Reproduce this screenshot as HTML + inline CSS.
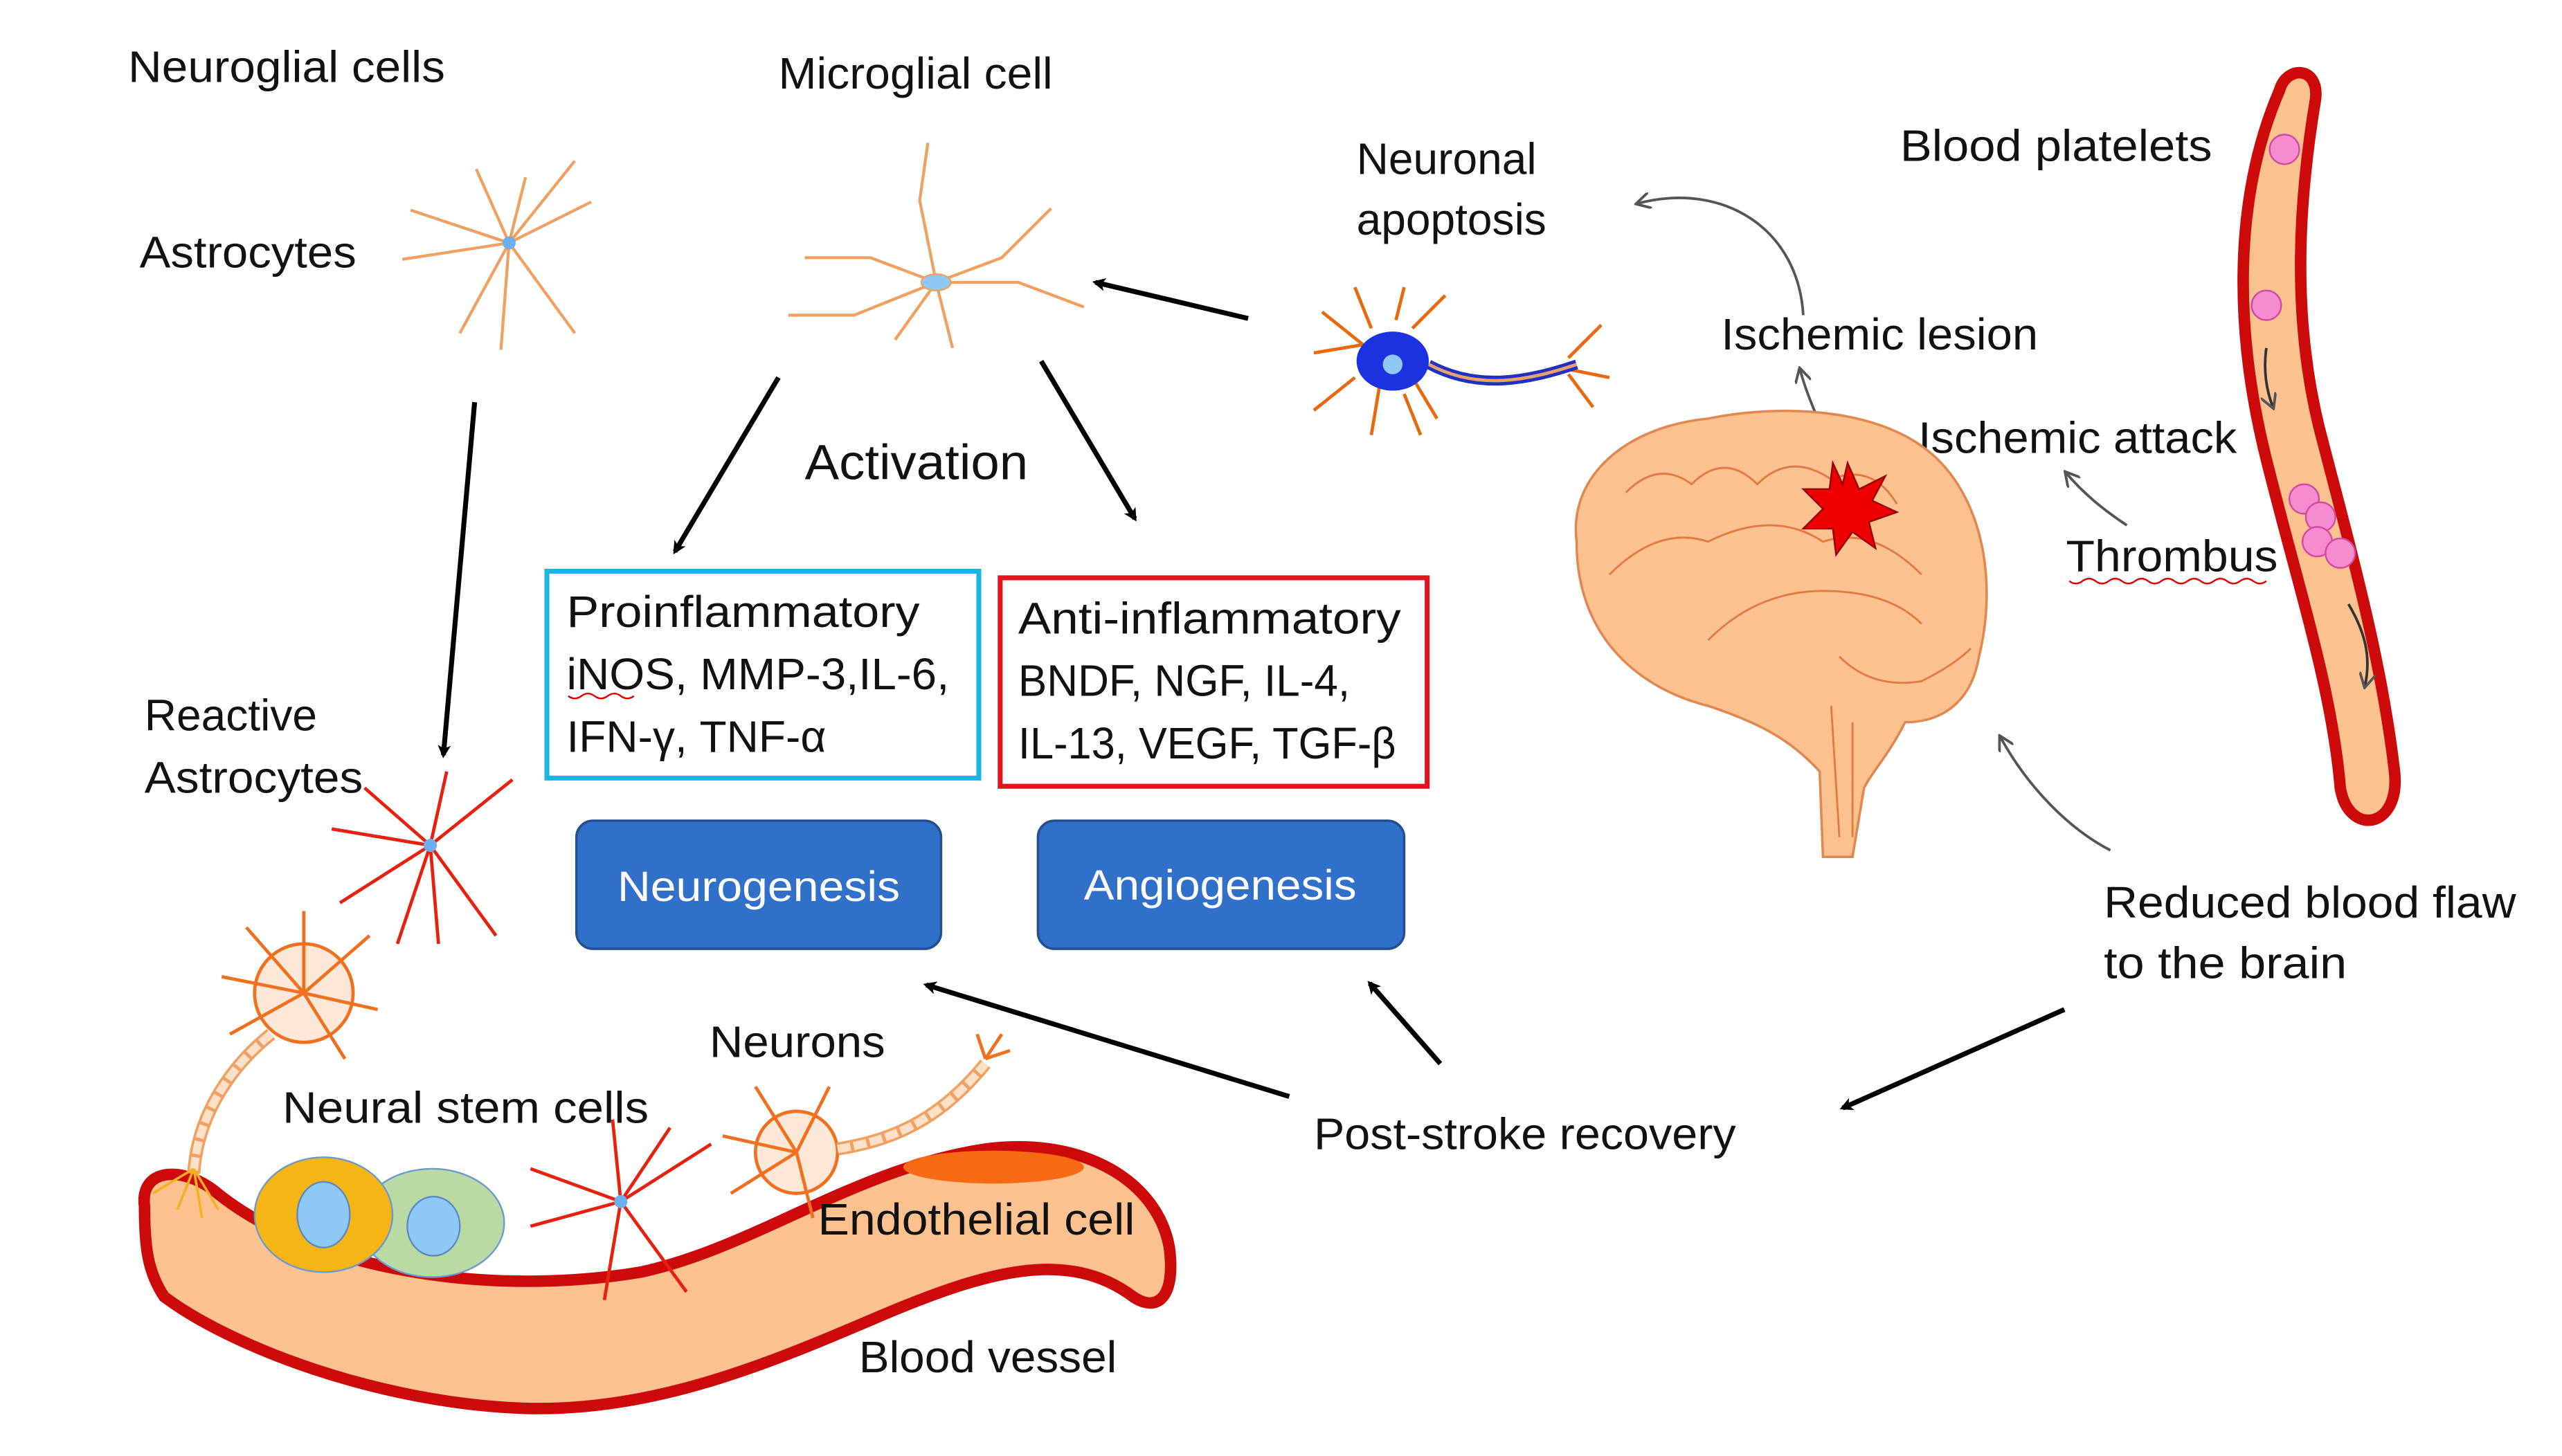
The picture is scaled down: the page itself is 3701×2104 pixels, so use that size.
<!DOCTYPE html>
<html><head><meta charset="utf-8"><style>
html,body{margin:0;padding:0;background:#fff;}
svg{display:block}
text{font-family:"Liberation Sans",sans-serif;fill:#111;}
</style></head><body>
<svg width="3701" height="2104" viewBox="0 0 1560 887" preserveAspectRatio="none" xmlns="http://www.w3.org/2000/svg">
<defs>
<marker id="ab" markerWidth="8" markerHeight="8" refX="6" refY="4" orient="auto" markerUnits="userSpaceOnUse"><path d="M0,0 L8,4 L0,8 L2,4 z" fill="#000"/></marker>
<marker id="ag" markerWidth="10" markerHeight="10" refX="8" refY="5" orient="auto" markerUnits="userSpaceOnUse"><path d="M0,0 L9,5 L0,10" fill="none" stroke="#555" stroke-width="1.6"/></marker>
</defs>
<rect width="1560" height="887" fill="#fff"/>

<!-- labels -->
<g font-size="27">
<text x="78" y="50" textLength="193" lengthAdjust="spacingAndGlyphs">Neuroglial cells</text>
<text x="474" y="54" textLength="167" lengthAdjust="spacingAndGlyphs">Microglial cell</text>
<text x="85" y="163" textLength="132" lengthAdjust="spacingAndGlyphs">Astrocytes</text>
<text x="826" y="106">Neuronal</text>
<text x="826" y="143">apoptosis</text>
<text x="1157" y="98" textLength="190" lengthAdjust="spacingAndGlyphs">Blood platelets</text>
<text x="1048" y="213" textLength="193" lengthAdjust="spacingAndGlyphs">Ischemic lesion</text>
<text x="1168" y="276" textLength="194" lengthAdjust="spacingAndGlyphs">Ischemic attack</text>
<text x="1258" y="348" textLength="129" lengthAdjust="spacingAndGlyphs">Thrombus</text>
<text x="88" y="445">Reactive</text>
<text x="88" y="483" textLength="133" lengthAdjust="spacingAndGlyphs">Astrocytes</text>
<text x="1281" y="559" textLength="251" lengthAdjust="spacingAndGlyphs">Reduced blood flaw</text>
<text x="1281" y="596" textLength="148" lengthAdjust="spacingAndGlyphs">to the brain</text>
<text x="800" y="700" textLength="257" lengthAdjust="spacingAndGlyphs">Post-stroke recovery</text>
<text x="432" y="644" textLength="107" lengthAdjust="spacingAndGlyphs">Neurons</text>
<text x="172" y="684" textLength="223" lengthAdjust="spacingAndGlyphs">Neural  stem cells</text>
<text x="523" y="836" textLength="157" lengthAdjust="spacingAndGlyphs">Blood vessel</text>
</g>
<path d="M1260,354 q4,3 8,0 t8,0 t8,0 t8,0 t8,0 t8,0 t8,0 t8,0 t8,0 t8,0 t8,0 t8,0 t8,0 t8,0 t8,0" fill="none" stroke="#d00" stroke-width="1"/>
<path d="M346,424 q4,3 8,0 t8,0 t8,0 t8,0 t8,0" fill="none" stroke="#d00" stroke-width="1"/>
<text x="490" y="292" font-size="30" textLength="136" lengthAdjust="spacingAndGlyphs">Activation</text>

<!-- boxes -->
<rect x="333" y="348" width="263" height="126" fill="none" stroke="#1fb4e0" stroke-width="3"/>
<g font-size="27"><text x="345" y="382" textLength="215" lengthAdjust="spacingAndGlyphs">Proinflammatory</text>
<text x="345" y="420" textLength="233" lengthAdjust="spacingAndGlyphs">iNOS, MMP-3,IL-6,</text>
<text x="345" y="458" textLength="158" lengthAdjust="spacingAndGlyphs">IFN-γ, TNF-α</text></g>
<rect x="609" y="352" width="260" height="127" fill="none" stroke="#e0141e" stroke-width="3"/>
<g font-size="27"><text x="620" y="386" textLength="233" lengthAdjust="spacingAndGlyphs">Anti-inflammatory</text>
<text x="620" y="424" textLength="202" lengthAdjust="spacingAndGlyphs">BNDF, NGF, IL-4,</text>
<text x="620" y="462" textLength="230" lengthAdjust="spacingAndGlyphs">IL-13, VEGF, TGF-β</text></g>
<rect x="351" y="500" width="222" height="78" rx="10" fill="#3070c8" stroke="#24508f" stroke-width="1.5"/>
<text x="462" y="549" font-size="26" text-anchor="middle" style="fill:#fff" textLength="172" lengthAdjust="spacingAndGlyphs">Neurogenesis</text>
<rect x="632" y="500" width="223" height="78" rx="10" fill="#3070c8" stroke="#24508f" stroke-width="1.5"/>
<text x="743" y="548" font-size="26" text-anchor="middle" style="fill:#fff" textLength="166" lengthAdjust="spacingAndGlyphs">Angiogenesis</text>

<!-- black arrows -->
<g stroke="#000" stroke-width="3" marker-end="url(#ab)" fill="none">
<line x1="760" y1="194" x2="667" y2="172"/>
<line x1="474" y1="230" x2="411" y2="336"/>
<line x1="634" y1="220" x2="691" y2="316"/>
<line x1="289" y1="245" x2="270" y2="460"/>
<line x1="1257" y1="615" x2="1122" y2="675"/>
<line x1="785" y1="668" x2="564" y2="600"/>
<line x1="877" y1="648" x2="834" y2="599"/>
</g>
<!-- gray curved arrows -->
<g stroke="#555" stroke-width="1.6" fill="none" marker-end="url(#ag)">
<path d="M1098,192 C1095,140 1050,110 997,124"/>
<path d="M1112,268 C1105,250 1100,240 1096,225"/>
<path d="M1295,320 C1280,310 1268,300 1258,288"/>
<path d="M1285,518 C1260,505 1235,480 1218,449"/>
</g>

<!-- bottom vessel -->
<path d="M88,735 C85,712 110,710 130,725 C190,775 300,790 390,775 C460,760 520,712 600,700 C660,692 705,720 712,760 C716,790 705,800 690,790 C650,760 600,775 540,800 C470,830 400,860 320,858 C230,855 140,820 100,790 C90,775 88,760 88,735 z" fill="#fbc18f" stroke="#cc0a0a" stroke-width="7"/>
<ellipse cx="605" cy="711" rx="55" ry="10" fill="#f56a12"/>
<text x="498" y="752" font-size="27" textLength="193" lengthAdjust="spacingAndGlyphs">Endothelial cell</text>
<ellipse cx="263" cy="745" rx="44" ry="33" fill="#b9dba3" stroke="#6a9ad0" stroke-width="1"/>
<ellipse cx="264" cy="747" rx="16" ry="18" fill="#8ec8f5" stroke="#5a8ac0"/>
<ellipse cx="197" cy="740" rx="42" ry="35" fill="#f5b615" stroke="#6a9ad0" stroke-width="1"/>
<ellipse cx="197" cy="740" rx="16" ry="20" fill="#8ec8f5" stroke="#5a8ac0"/>

<!-- right vessel -->
<path d="M1388,55 C1360,120 1360,200 1380,280 C1400,360 1420,420 1425,480 C1430,510 1462,505 1458,470 C1450,400 1430,330 1412,260 C1395,190 1400,120 1410,60 C1412,40 1392,40 1388,55 z" fill="#fbc18f" stroke="#cc0a0a" stroke-width="7"/>
<g fill="#f58cd0" stroke="#d04aa0" stroke-width="1">
<circle cx="1391" cy="91" r="9"/><circle cx="1380" cy="186" r="9"/>
<circle cx="1403" cy="304" r="9"/><circle cx="1413" cy="315" r="9"/><circle cx="1411" cy="330" r="9"/><circle cx="1425" cy="337" r="9"/>
</g>
<g stroke="#333" stroke-width="1.6" fill="none" marker-end="url(#ag)">
<path d="M1380,212 C1378,225 1380,238 1384,248"/>
<path d="M1430,368 C1440,385 1444,400 1440,418"/>
</g>

<!-- brain -->
<path d="M960,330 C955,290 990,260 1040,255 C1090,245 1150,250 1180,280 C1210,310 1215,360 1205,400 C1200,430 1180,440 1160,440 C1150,460 1140,470 1135,480 L1128,522 L1110,522 L1108,470 C1090,450 1070,440 1040,430 C1000,420 960,390 960,330 z" fill="#fbc18f" stroke="#e08850" stroke-width="1.5"/>
<g stroke="#e07a40" stroke-width="1.2" fill="none">
<path d="M990,300 q20,-20 40,-5 q20,-20 40,0 q20,-20 45,-3 q25,-10 40,15"/>
<path d="M980,350 q30,-30 60,-20 q40,-20 70,0 q30,-10 60,20"/>
<path d="M1040,390 q30,-30 70,-30 q40,0 60,20"/>
<path d="M1120,400 q20,20 50,15 q20,-10 30,-20"/>
<path d="M1115,430 l5,80 M1128,440 l0,70"/>
</g>
<polygon points="1125,282 1132,298 1148,290 1140,305 1155,312 1138,318 1142,334 1128,324 1118,338 1116,322 1098,322 1110,310 1098,298 1114,298 1116,282 1122,295" fill="#ee0000" stroke="#900" stroke-width="1"/>

<!-- neuron top right -->
<g stroke="#e86a10" stroke-width="2" fill="none">
<path d="M830,210 l-25,-20 M830,210 l-30,5 M835,200 l-10,-25 M850,195 l5,-20 M860,200 l20,-20 M860,230 l15,25 M840,235 l-5,30 M825,230 l-25,20 M855,240 l10,25"/>
<path d="M955,218 l20,-20 M955,225 l25,5 M955,228 l15,20"/>
</g>
<path d="M870,222 C900,238 930,232 960,222" stroke="#2030c0" stroke-width="6" fill="none"/>
<path d="M870,222 C900,238 930,232 960,222" stroke="#e8a070" stroke-width="2" fill="none"/>
<ellipse cx="848" cy="220" rx="22" ry="18" fill="#1a32e0"/>
<circle cx="848" cy="222" r="6" fill="#8ec8f5"/>

<!-- astrocyte top -->
<g stroke="#f0a060" stroke-width="1.8" fill="none">
<path d="M310,148 l-60,-20 M310,148 l-65,10 M310,148 l-30,55 M310,148 l-5,65 M310,148 l40,55 M310,148 l50,-25 M310,148 l40,-50 M310,148 l-20,-45 M310,148 l10,-40"/>
</g>
<circle cx="310" cy="148" r="4" fill="#6ab0f0"/>

<!-- microglia -->
<g stroke="#f0a060" stroke-width="1.8" fill="none">
<path d="M570,172 l-40,-15 l-40,0 M570,172 l-50,20 l-40,0 M570,172 l-10,-50 l5,-35 M570,172 l40,-15 l30,-30 M570,172 l50,0 l40,15 M570,172 l10,40 M570,172 l-25,35"/>
</g>
<ellipse cx="570" cy="172" rx="9" ry="5" fill="#8ec8f5" stroke="#f0a060"/>

<!-- reactive astrocyte -->
<g stroke="#e82010" stroke-width="2" fill="none">
<path d="M262,515 l-60,-10 M262,515 l-55,35 M262,515 l-40,-35 M262,515 l10,-45 M262,515 l50,-40 M262,515 l40,55 M262,515 l5,60 M262,515 l-20,60"/>
<path d="M378,732 l-55,-20 M378,732 l-55,15 M378,732 l-10,60 M378,732 l40,55 M378,732 l30,-45 M378,732 l-5,-50 M378,732 l55,-35"/>
</g>
<circle cx="262" cy="515" r="4" fill="#6ab0f0"/><circle cx="378" cy="732" r="4" fill="#6ab0f0"/>

<!-- neurons lower -->
<g stroke="#f07020" stroke-width="2" fill="#fde8d8">
<circle cx="185" cy="605" r="30"/>
<circle cx="485" cy="702" r="25"/>
</g>
<g stroke="#f07020" stroke-width="2" fill="none">
<path d="M185,605 l-50,-10 M185,605 l-35,-40 M185,605 l0,-50 M185,605 l40,-35 M185,605 l45,10 M185,605 l25,40 M185,605 l-45,25"/>
<path d="M485,702 l-45,-10 M485,702 l-25,-40 M485,702 l20,-40 M485,702 l-40,25 M485,702 l10,40"/>
<path d="M600,645 l10,-15 M600,645 l15,-5 M600,645 l-5,-15"/>
</g>
<path d="M165,630 C140,650 120,680 118,715" stroke="#f0a060" stroke-width="8" fill="none"/>
<path d="M165,630 C140,650 120,680 118,715" stroke="#fde0c8" stroke-width="5" fill="none" stroke-dasharray="8,2"/>
<path d="M510,700 C540,695 570,685 600,648" stroke="#f0a060" stroke-width="8" fill="none"/>
<path d="M510,700 C540,695 570,685 600,648" stroke="#fde0c8" stroke-width="5" fill="none" stroke-dasharray="8,2"/>
<g stroke="#f5b020" stroke-width="1.5" fill="none"><path d="M118,712 l-25,15 M118,712 l-10,25 M118,712 l15,25 M118,712 l5,30"/></g>
</svg>
</body></html>
